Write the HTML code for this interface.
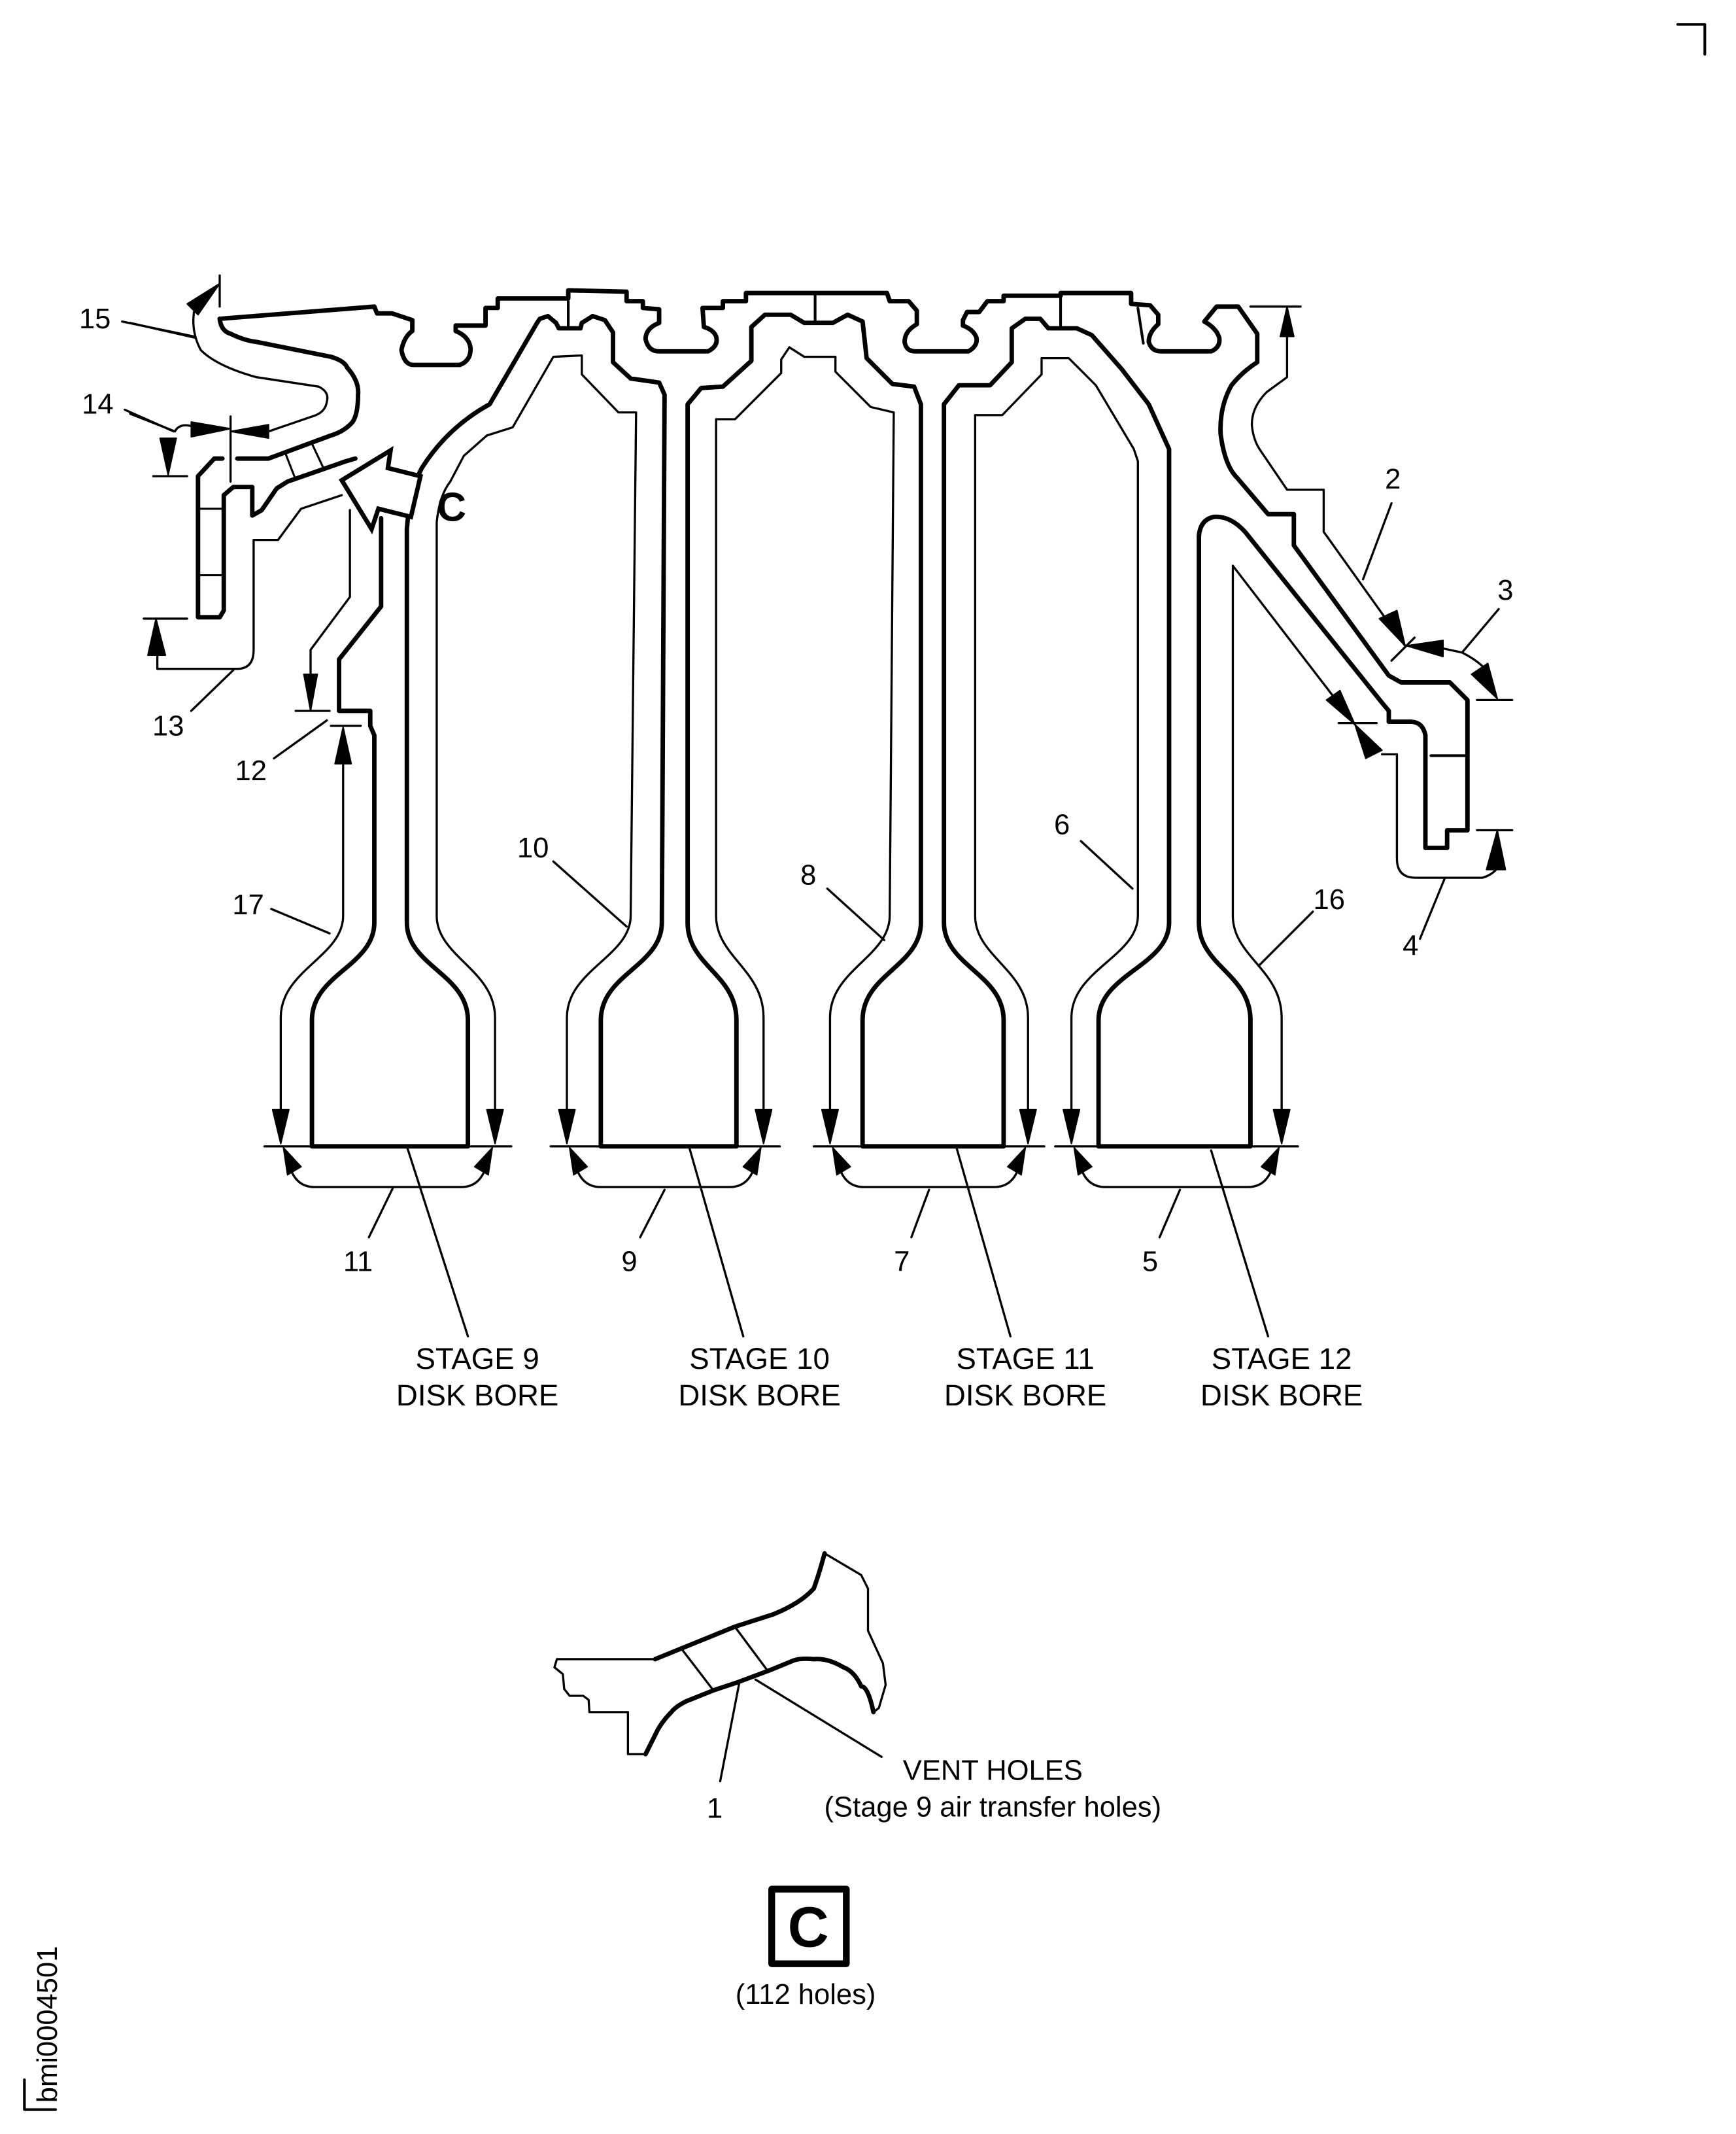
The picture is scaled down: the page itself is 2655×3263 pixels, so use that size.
<!DOCTYPE html>
<html><head><meta charset="utf-8"><style>
html,body{margin:0;padding:0;background:#fff}
svg{display:block}
text{font-family:"Liberation Sans",Arial,sans-serif;fill:#000}
</style></head><body>
<svg width="2655" height="3263" viewBox="0 0 1280 1573" preserveAspectRatio="none" xmlns="http://www.w3.org/2000/svg">
<g fill="none" stroke="#000" stroke-linejoin="round" stroke-linecap="round">
<!-- corner mark -->
<path d="M1237,18 L1257,18 L1257,40" stroke-width="2"/>
<!-- main thick rotor outline -->
<path stroke-width="3.3" d="M162,235 L276,226 L278,231 L289,231 L304,236 L304,244 Q298,248 296,258 Q298,269 305,269 L339,269 Q347,266 347,257 Q346,248 336,244 L336,240 L358,240 L358,227 L367,227 L367,220 L419,220 L419,214 L462,215 L462,222 L474,222 L474,227 L486,228 L486,238 Q476,242 476,250 Q478,259 486,259 L522,259 Q530,255 528,248 Q526,243 519,241 L518,227 L533,227 L533,222 L550,222 L550,216 L654,216 L656,222 L670,222 L676,229 L676,239 Q667,244 667,252 Q668,259 675,259 L714,259 Q721,255 720,249 Q718,243 710,240 L710,236 L713,230 L722,230 L728,222 L740,222 L740,218 L782,218 L782,216 L834,216 L834,224 L848,225 L854,232 L854,239 Q847,245 847,252 Q849,259 856,259 L893,259 Q900,256 899,249 Q897,242 888,237 L897,226 L913,226 L927,246 L927,267 Q916,274 908,284 Q899,300 900,320 Q903,343 912,352 L935,379 L954,379 L954,402 L1024,498 L1033,503 L1069,503 L1082,516 L1082,612 L1067,612 L1067,625 L1051,625 L1051,542 Q1049,532 1040,532 L1024,532 L1024,524 L1019,518 L918,392 Q907,380 895,381 Q885,383 884,395 L884,680 C884,712 922,718 922,752 L922,845 L810,845 L810,752 C810,718 862,712 862,680 L862,331 L847,298 L827,272 L805,247 L794,242 L773,242 L767,235 L756,235 L746,242 L746,267 L730,284 L707,284 L696,298 L696,680 C696,712 740,718 740,752 L740,845 L636,845 L636,752 C636,718 679,712 679,680 L679,298 L674,285 L658,283 L639,264 L636,237 L625,232 L614,238 L593,238 L583,232 L564,232 L554,241 L554,266 L533,285 L517,286 L507,298 L507,680 C507,712 543,718 543,752 L543,845 L443,845 L443,752 C443,718 488,712 488,680 L490,291 L486,282 L465,279 L452,267 L452,245 L446,236 L437,233 L429,238 L428,242 L412,242 L410,238 L404,233 L398,235 L396,238 L361,298 Q330,315 311,345 Q302,362 300,390 L300,680 C300,712 345,718 345,752 L345,845 L230,845 L230,752 C230,718 276,712 276,680 L276,542 L273,535 L273,524 L250,524 L250,486 L281,447 L281,382"/>
<!-- rim bars -->
<path stroke-width="2" d="M419,220 L419,242 M601,216 L601,238 M782,216 L782,240 M1055,557 L1082,557 M839,227 L843,253"/>
<!-- 15 loop and L-box -->
<path stroke-width="3.3" d="M162,235 Q163,244 170,246 Q180,251 189,252 L244,263 Q254,266 256,271 Q265,281 264,291 Q264,305 260,311 Q254,318 244,321 L198,338 L175,338 M164,338 L158,338 L146,351 L146,455 L162,455 L165,450 L165,365 L172,359 L186,359 L186,380 L193,376 L204,360 L212,355 L255,340 L262,338"/>
<path stroke-width="1.5" d="M146,375 L165,375 M146,424 L165,424 M210,333 L217,351 M230,327 L238,344"/>
<!-- thin flow lines -->
<g stroke-width="1.6">
<path d="M96,238 L144,249"/>
<path d="M162,203 L162,226"/>
<path d="M143,230 Q141,245 148,258 Q160,270 189,278 L235,285 Q243,289 241,296 Q240,303 233,306 L198,318"/>
<path d="M170,307 L170,355 M113,351 L138,351 M129,318 Q132,312 141,314 M96,305 L129,318"/>
<path d="M252,365 L222,375 L205,398 L187,398 L187,479 Q187,493 175,493 L116,493 L116,483"/>
<path d="M106,456 L138,456 M172,494 L141,524"/>
<path d="M258,376 L258,440 L229,479 L229,500 M218,524 L243,524 M244,535 L266,535 M241,531 L202,559"/>
<path d="M253,560 L253,675 C253,705 207,715 207,750 L207,820"/>
<path d="M365,820 L365,750 C365,715 322,705 322,675 L322,385 Q324,365 332,355 L342,336 L359,321 L378,315 L408,263 L429,262 L429,276 L456,304 L469,304 L465,675 C465,705 418,715 418,750 L418,820"/>
<path d="M563,820 L563,750 C563,715 528,705 528,675 L528,309 L542,309 L576,275 L576,265 L582,256 L593,263 L616,263 L616,274 L642,300 L659,304 L656,675 C656,705 612,715 612,750 L612,820"/>
<path d="M758,820 L758,750 C758,715 719,705 719,675 L719,306 L739,306 L768,276 L768,264 L788,264 L808,284 L836,331 L839,340 L839,675 C839,705 790,715 790,750 L790,820"/>
<path d="M945,820 L945,750 C945,715 909,705 909,675 L909,417 L999,534"/>
<path d="M1019,556 L1030,556 L1030,633 Q1030,647 1044,647 L1093,647 Q1100,645 1104,640 M1089,612 L1115,612 M987,533 L1015,533"/>
<path d="M922,226 L959,226 M949,248 L949,278 L934,289 Q923,300 923,313 Q924,325 930,333 L949,361 L976,361 L976,392 L1036,476"/>
<path d="M1064,478 L1078,481 Q1090,487 1097,495 M1089,516 L1115,516 M1026,487 L1043,470"/>
<!-- leaders -->
<path d="M1026,371 L1005,427 M1105,449 L1078,481 M1065,648 L1047,692 M968,672 L928,712 M797,620 L835,655 M610,655 L652,693 M408,635 L462,683 M200,670 L243,688 M90,237 L143,248 M92,302 L128,318"/>
<path d="M272,912 L290,875 M472,912 L490,877 M672,912 L685,877 M855,912 L870,877"/>
<path d="M300,845 L345,985 M508,845 L548,985 M705,845 L745,985 M893,848 L935,985"/>
<!-- bottom flow paths + dash lines -->
<path d="M212,852 Q215,875 232,875 L340,875 Q357,875 360,852 M195,845 L377,845"/>
<path d="M423,852 Q426,875 443,875 L538,875 Q555,875 558,852 M406,845 L575,845"/>
<path d="M617,852 Q620,875 637,875 L733,875 Q750,875 753,852 M600,845 L770,845"/>
<path d="M795,852 Q798,875 815,875 L920,875 Q937,875 940,852 M778,845 L957,845"/>
<!-- vent hole detail -->
<path d="M483,1223 L410.6,1223 L408.8,1229 L415,1234 L416,1245 L420,1250 L430,1250 L434,1253 L434.6,1262 L463,1262 L463,1293 L476,1293"/>
<path d="M608,1145 L635,1161 L640,1171 L640,1202 L651,1226 L653,1242 L648,1259 L644,1262"/>
<path d="M503,1216 L526,1246 M542.5,1200 L565.6,1231 M545,1241 L531,1313 M557,1238 L650,1295"/>
<path d="M18,1533 L18,1555 L41,1555" stroke-width="2"/>
</g>
<path stroke-width="3.3" d="M483,1223 L542,1199 L570,1190 Q590,1182 600,1171 Q604,1160 608,1145 M644,1262 Q640,1243 635,1243 Q630,1232 622,1229 Q610,1222 600,1223 Q590,1222 585,1224 L568,1231 L544,1240 L526,1246 L506,1254 Q498,1258 495,1262 Q489,1268 485,1275 L476,1293"/>
<!-- C box -->
<rect x="569" y="1392.5" width="55" height="55" stroke-width="5"/>
</g>
<!-- filled arrowheads -->
<g fill="#000" stroke="#000" stroke-width="1" stroke-linejoin="round">
<polygon points="138,224 146,232 162,209"/>
<polygon points="141,311 141,322 170,316"/>
<polygon points="198,313 198,323 170,318"/>
<polygon points="118,323 130,323 124,350"/>
<polygon points="109,483 122,483 115,456"/>
<polygon points="224,497 234,497 229,524"/>
<polygon points="247,563 259,563 253,536"/>
<polygon points="201,818 213,818 207,843"/>
<polygon points="359,818 371,818 365,843"/>
<polygon points="412,818 424,818 418,843"/>
<polygon points="557,818 569,818 563,843"/>
<polygon points="606,818 618,818 612,843"/>
<polygon points="752,818 764,818 758,843"/>
<polygon points="784,818 796,818 790,843"/>
<polygon points="939,818 951,818 945,843"/>
<polygon points="209,846 222,860 212,866"/>
<polygon points="363,846 350,860 360,866"/>
<polygon points="420,846 433,860 423,866"/>
<polygon points="561,846 548,860 558,866"/>
<polygon points="614,846 627,860 617,866"/>
<polygon points="756,846 743,860 753,866"/>
<polygon points="792,846 805,860 795,866"/>
<polygon points="943,846 930,860 940,866"/>
<polygon points="978,516 988,509 999,534"/>
<polygon points="1007,559 1019,553 999,534"/>
<polygon points="1096,641 1110,641 1104,612"/>
<polygon points="944,248 954,248 949,226"/>
<polygon points="1017,456 1030,450 1036,476"/>
<polygon points="1064,472 1064,484 1037,476"/>
<polygon points="1085,497 1097,489 1104,515"/>
</g>
<!-- big hollow arrow C -->
<polygon points="252,354 288,332 286,345 310,351 303,381 279,375 274,390" fill="#fff" stroke="#000" stroke-width="3.3" stroke-linejoin="miter"/>
<!-- text -->
<g font-size="21" text-anchor="middle">
<text x="70" y="242">15</text>
<text x="72" y="305">14</text>
<text x="124" y="542">13</text>
<text x="185" y="575">12</text>
<text x="183" y="674">17</text>
<text x="393" y="632">10</text>
<text x="596" y="652">8</text>
<text x="783" y="615">6</text>
<text x="980" y="670">16</text>
<text x="1027" y="360">2</text>
<text x="1110" y="442">3</text>
<text x="1040" y="704">4</text>
<text x="264" y="937">11</text>
<text x="464" y="937">9</text>
<text x="665" y="937">7</text>
<text x="848" y="937">5</text>
<text x="527" y="1340">1</text>
<text x="732" y="1312">VENT HOLES</text>
<text x="732" y="1339">(Stage 9 air transfer holes)</text>
<text x="594" y="1477">(112 holes)</text>
</g>
<g font-size="22" text-anchor="middle">
<text x="352" y="1009">STAGE 9</text><text x="352" y="1036">DISK BORE</text>
<text x="560" y="1009">STAGE 10</text><text x="560" y="1036">DISK BORE</text>
<text x="756" y="1009">STAGE 11</text><text x="756" y="1036">DISK BORE</text>
<text x="945" y="1009">STAGE 12</text><text x="945" y="1036">DISK BORE</text>
</g>
<text x="333" y="384" font-size="30" font-weight="bold" text-anchor="middle">C</text>
<text x="596" y="1435" font-size="42" font-weight="bold" text-anchor="middle">C</text>
<text transform="translate(42,1550) rotate(-90)" font-size="21">bmi0004501</text>
</svg>
</body></html>
